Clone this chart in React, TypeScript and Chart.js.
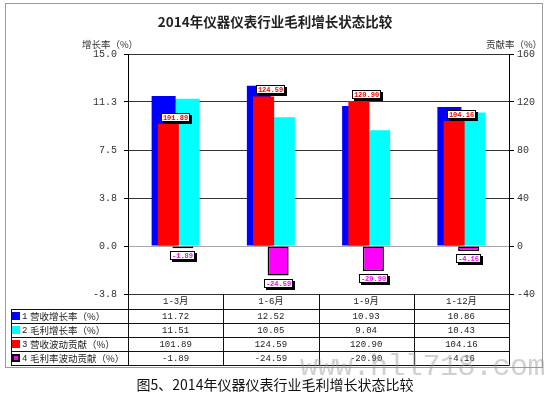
import React, { useEffect, useRef } from "react";
import { Chart, registerables } from "chart.js";

Chart.register(...registerables);

const categories = ["1-3月", "1-6月", "1-9月", "1-12月"];
const revenueGrowth = [11.72, 12.52, 10.93, 10.86];
const grossGrowth = [11.51, 10.05, 9.04, 10.43];
const revenueContribution = [101.89, 124.59, 120.9, 104.16];
const marginContribution = [-1.89, -24.59, -20.9, -4.16];
const seriesNames = ["营收增长率（%）", "毛利增长率（%）", "营收波动贡献（%）", "毛利率波动贡献（%）"];
const leftTicks = [-3.75, 0, 3.75, 7.5, 11.25, 15];
const leftTickLabels = ["-3.8", "0.0", "3.8", "7.5", "11.3", "15.0"];
const rightTicks = [-40, 0, 40, 80, 120, 160];
const rightTickLabels = ["-40", "0", "40", "80", "120", "160"];
const chartTitle = "2014年仪器仪表行业毛利增长状态比较";
const leftAxisTitle = "增长率（%）";
const rightAxisTitle = "贡献率（%）";
const captionText = "图5、2014年仪器仪表行业毛利增长状态比较";
const watermarkText = "www.hll718.com";

const CJK = '"Noto Sans CJK SC", "Noto Sans", sans-serif';
const MONO = '"Liberation Mono", "DejaVu Sans Mono", "Noto Sans CJK SC", monospace';

const seriesValues = [revenueGrowth, grossGrowth, revenueContribution, marginContribution];

function drawBoxLabel(ctx: CanvasRenderingContext2D, text: string, cx: number, cy: number, color: string) {
  ctx.save();
  ctx.font = 'bold 7px ' + MONO;
  const w = Math.round(ctx.measureText(text).width + 4);
  const h = 9;
  const x = Math.round(cx - w / 2);
  const y = Math.round(cy - h / 2);
  ctx.fillStyle = "#000";
  ctx.fillRect(x + 2, y + 2, w, h);
  ctx.fillStyle = "#fff";
  ctx.fillRect(x, y, w, h);
  ctx.strokeStyle = "#000";
  ctx.lineWidth = 1;
  ctx.strokeRect(x + 0.5, y + 0.5, w - 1, h - 1);
  ctx.fillStyle = color;
  ctx.textAlign = "center";
  ctx.textBaseline = "middle";
  ctx.fillText(text, x + w / 2, y + h / 2 + 0.5);
  ctx.restore();
}

const decorPlugin = {
  id: "decor",
  beforeDraw(chart: any) {
    const ctx = chart.ctx as CanvasRenderingContext2D;
    ctx.save();
    ctx.fillStyle = "#fff";
    ctx.fillRect(0, 0, chart.width, chart.height);
    ctx.strokeStyle = "#9a9a9a";
    ctx.lineWidth = 1;
    ctx.strokeRect(5.5, 3.5, 537, 364);
    ctx.restore();
  },
  afterDraw(chart: any) {
    const ctx = chart.ctx as CanvasRenderingContext2D;
    const area = chart.chartArea;
    const xs = chart.scales.x;
    ctx.save();
    ctx.fillStyle = "#222";
    ctx.font = "bold 13.5px " + CJK;
    ctx.textAlign = "center";
    ctx.textBaseline = "middle";
    ctx.fillText(chartTitle, 275, 22);
    ctx.font = "9.5px " + CJK;
    ctx.fillStyle = "#333";
    ctx.fillText(leftAxisTitle, 110, 44);
    ctx.fillText(rightAxisTitle, 514, 44);
    ctx.restore();

    const redMeta = chart.getDatasetMeta(2);
    const magMeta = chart.getDatasetMeta(3);
    revenueContribution.forEach((v, i) => {
      const el = redMeta.data[i];
      const cx = xs.getPixelForValue(i);
      drawBoxLabel(ctx, v.toFixed(2), cx, el.y - 2 - 4.5, "#ff0000");
    });
    marginContribution.forEach((v, i) => {
      const el = magMeta.data[i];
      drawBoxLabel(ctx, v.toFixed(2), el.x, el.y + 3 + 4.5, "#ff00ff");
    });

    const left = area.left;
    const right = area.right;
    const catW = (right - left) / categories.length;
    const top = area.bottom;
    const headerBottom = top + 15;
    const rowH = 13.9;
    const tableLeft = 11;
    const tableBottom = headerBottom + rowH * 4;
    const px = (v: number) => Math.round(v) + 0.5;

    ctx.save();
    ctx.strokeStyle = "#111";
    ctx.lineWidth = 1;
    ctx.beginPath();
    for (let k = 0; k <= 4; k++) {
      const y = px(headerBottom + k * rowH);
      ctx.moveTo(tableLeft, y);
      ctx.lineTo(right, y);
    }
    for (let j = 0; j <= categories.length; j++) {
      const x = px(left + j * catW);
      ctx.moveTo(x, top);
      ctx.lineTo(x, px(tableBottom));
    }
    ctx.moveTo(px(tableLeft), px(headerBottom));
    ctx.lineTo(px(tableLeft), px(tableBottom));
    ctx.stroke();

    ctx.fillStyle = "#222";
    ctx.textAlign = "center";
    ctx.textBaseline = "middle";
    ctx.font = "9px " + MONO;
    categories.forEach((c, j) => {
      ctx.fillText(c, left + (j + 0.5) * catW, (top + headerBottom) / 2 + 0.5);
    });

    const datasets = chart.data.datasets;
    seriesNames.forEach((name, r) => {
      const cy = headerBottom + (r + 0.5) * rowH + 0.5;
      const ds = datasets[r];
      const ky = Math.round(cy - 4);
      if (ds.borderWidth) {
        ctx.fillStyle = "#000";
        ctx.fillRect(12, ky, 8, 8);
        ctx.fillStyle = ds.backgroundColor;
        ctx.fillRect(14, ky + 2, 4, 4);
      } else {
        ctx.fillStyle = ds.backgroundColor;
        ctx.fillRect(12, ky, 8, 8);
      }
      ctx.fillStyle = "#222";
      ctx.textAlign = "left";
      ctx.font = "9px " + MONO;
      ctx.fillText(String(r + 1), 22, cy);
      ctx.font = "9.5px " + CJK;
      ctx.fillText(name, 30, cy);
      ctx.textAlign = "center";
      ctx.font = "9px " + MONO;
      seriesValues[r].forEach((v, j) => {
        ctx.fillText(v.toFixed(2), left + (j + 0.5) * catW, cy);
      });
    });
    ctx.restore();
  },
};

export default function App() {
  const canvasRef = useRef<HTMLCanvasElement | null>(null);

  useEffect(() => {
    document.body.style.margin = "0";
    const canvas = canvasRef.current;
    if (!canvas) return;
    const chart = new Chart(canvas, {
      type: "bar",
      data: {
        labels: categories,
        datasets: [
          {
            label: seriesNames[0],
            data: revenueGrowth,
            backgroundColor: "#0000ff",
            yAxisID: "y",
            stack: "a",
            order: 1,
            categoryPercentage: 0.504,
            barPercentage: 1,
          },
          {
            label: seriesNames[1],
            data: grossGrowth,
            backgroundColor: "#00ffff",
            yAxisID: "y",
            stack: "b",
            order: 1,
            categoryPercentage: 0.504,
            barPercentage: 1,
          },
          {
            label: seriesNames[2],
            data: revenueContribution,
            backgroundColor: "#ff0000",
            yAxisID: "y1",
            stack: "a",
            order: 0,
            categoryPercentage: 0.3045,
            barPercentage: 1.448,
          },
          {
            label: seriesNames[3],
            data: marginContribution,
            backgroundColor: "#ff00ff",
            borderColor: "#000000",
            borderWidth: 1.5,
            borderSkipped: false,
            yAxisID: "y1",
            stack: "b",
            order: 0,
            categoryPercentage: 0.3045,
            barPercentage: 1.448,
          },
        ] as any,
      },
      options: {
        responsive: false,
        animation: false,
        devicePixelRatio: 1,
        layout: { padding: { top: 54, bottom: 76, left: 0, right: 0 } },
        plugins: {
          legend: { display: false },
          tooltip: { enabled: false },
          title: { display: false },
        },
        scales: {
          x: { type: "category", display: false, offset: true },
          y: {
            position: "left",
            stacked: false,
            min: -3.75,
            max: 15,
            afterBuildTicks: (s: any) => {
              s.ticks = leftTicks.map((v) => ({ value: v }));
            },
            afterFit: (s: any) => {
              s.width = 128;
            },
            ticks: {
              callback: (v: any) => leftTickLabels[leftTicks.indexOf(Number(v))],
              font: { family: MONO, size: 10 },
              color: "#333",
              padding: 7,
            },
            grid: {
              color: (c: any) => (c.tick && c.tick.value === 0 ? "#a8a8a8" : "#333"),
              tickColor: "#000",
              tickLength: 4,
              lineWidth: 1,
            },
            border: { color: "#000", width: 1 },
          },
          y1: {
            position: "right",
            stacked: false,
            min: -40,
            max: 160,
            afterBuildTicks: (s: any) => {
              s.ticks = rightTicks.map((v) => ({ value: v }));
            },
            afterFit: (s: any) => {
              s.width = 41;
            },
            ticks: {
              callback: (v: any) => rightTickLabels[rightTicks.indexOf(Number(v))],
              font: { family: MONO, size: 10 },
              color: "#333",
              padding: 3,
            },
            grid: { drawOnChartArea: false, tickColor: "#000", tickLength: 5 },
            border: { color: "#000", width: 1 },
          },
        } as any,
      },
      plugins: [decorPlugin as any],
    });
    return () => chart.destroy();
  }, []);

  return (
    <div style={{ position: "relative", width: 550, height: 395, background: "#fff", overflow: "hidden" }}>
      <canvas ref={canvasRef} width={550} height={370} style={{ display: "block" }} />
      <div
        style={{
          position: "absolute",
          left: 300,
          top: 350,
          font: '30px "Liberation Mono", monospace',
          color: "rgba(150,150,150,0.45)",
          whiteSpace: "nowrap",
          letterSpacing: "-0.5px",
          pointerEvents: "none",
        }}
      >
        {watermarkText}
      </div>
      <div
        style={{
          position: "absolute",
          left: 0,
          top: 376,
          width: 550,
          textAlign: "center",
          font: '14px "Noto Sans CJK SC", sans-serif',
          lineHeight: "17px",
          color: "#111",
          whiteSpace: "nowrap",
        }}
      >
        {captionText}
      </div>
    </div>
  );
}
